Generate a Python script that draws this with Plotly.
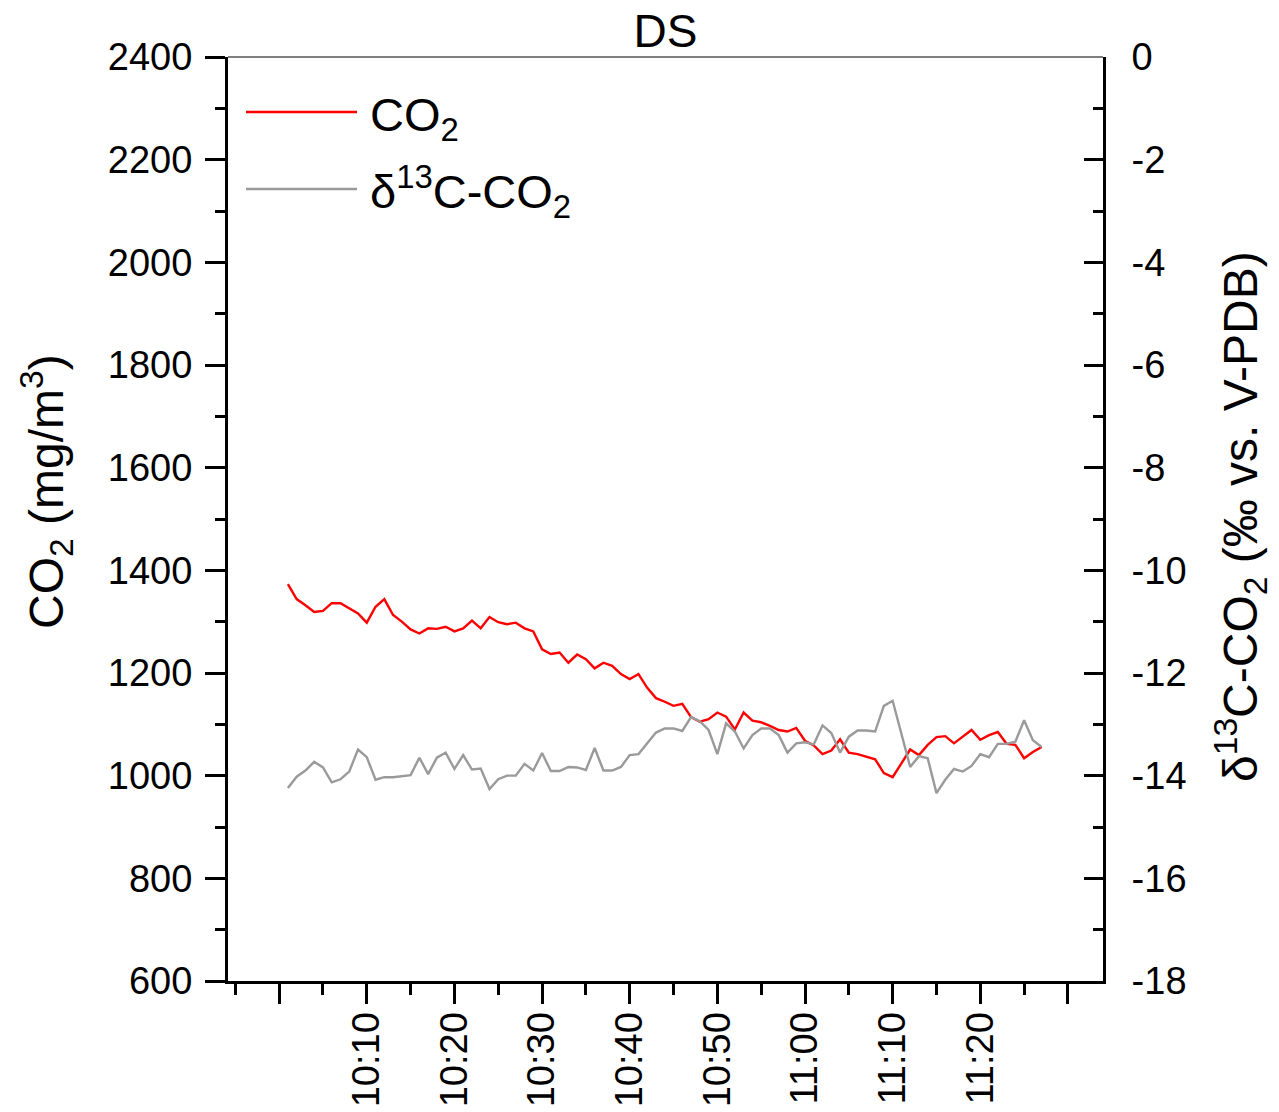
import plotly.graph_objects as go

times = ["10:01", "10:02", "10:03", "10:04", "10:05", "10:06", "10:07", "10:08", "10:09", "10:10",
         "10:11", "10:12", "10:13", "10:14", "10:15", "10:16", "10:17", "10:18", "10:19", "10:20",
         "10:21", "10:22", "10:23", "10:24", "10:25", "10:26", "10:27", "10:28", "10:29", "10:30",
         "10:31", "10:32", "10:33", "10:34", "10:35", "10:36", "10:37", "10:38", "10:39", "10:40",
         "10:41", "10:42", "10:43", "10:44", "10:45", "10:46", "10:47", "10:48", "10:49", "10:50",
         "10:51", "10:52", "10:53", "10:54", "10:55", "10:56", "10:57", "10:58", "10:59", "11:00",
         "11:01", "11:02", "11:03", "11:04", "11:05", "11:06", "11:07", "11:08", "11:09", "11:10",
         "11:11", "11:12", "11:13", "11:14", "11:15", "11:16", "11:17", "11:18", "11:19", "11:20",
         "11:21", "11:22", "11:23", "11:24", "11:25", "11:26", "11:27"]

co2 = [1373, 1344, 1332, 1319, 1321, 1336, 1336, 1326, 1316, 1298,
       1329, 1344, 1313, 1300, 1285, 1277, 1287, 1286, 1290, 1281,
       1287, 1302, 1287, 1309, 1299, 1295, 1298, 1287, 1281, 1246,
       1237, 1240, 1220, 1236, 1227, 1209, 1220, 1214, 1198, 1188,
       1198, 1171, 1151, 1144, 1136, 1140, 1114, 1105, 1110, 1123,
       1115, 1090, 1123, 1107, 1104, 1097, 1089, 1086, 1093, 1068,
       1059, 1042, 1049, 1071, 1045, 1042, 1037, 1032, 1005, 997,
       1024, 1051, 1040, 1060, 1075, 1077, 1063, 1076, 1089, 1070,
       1079, 1085, 1062, 1060, 1034, 1046, 1056]

d13c = [-14.24, -14.02, -13.90, -13.73, -13.84, -14.13, -14.07, -13.92, -13.49, -13.64,
        -14.08, -14.03, -14.03, -14.01, -13.99, -13.65, -13.97, -13.65, -13.55, -13.87,
        -13.60, -13.88, -13.86, -14.26, -14.07, -14.00, -14.00, -13.77, -13.90, -13.56,
        -13.91, -13.91, -13.83, -13.84, -13.89, -13.46, -13.90, -13.90, -13.83, -13.60,
        -13.58, -13.37, -13.16, -13.08, -13.08, -13.13, -12.86, -12.94, -13.11, -13.58,
        -12.98, -13.14, -13.47, -13.21, -13.08, -13.08, -13.21, -13.55, -13.37, -13.35,
        -13.39, -13.02, -13.17, -13.55, -13.24, -13.12, -13.12, -13.14, -12.64, -12.54,
        -13.18, -13.83, -13.62, -13.66, -14.34, -14.08, -13.87, -13.92, -13.81, -13.58,
        -13.64, -13.38, -13.38, -13.34, -12.92, -13.31, -13.44]

tick_times = ["10:00", "10:10", "10:20", "10:30", "10:40", "10:50", "11:00", "11:10", "11:20", "11:30"]
tick_labels = ["", "10:10", "10:20", "10:30", "10:40", "10:50", "11:00", "11:10", "11:20", ""]

co2_ticks = [600, 800, 1000, 1200, 1400, 1600, 1800, 2000, 2200, 2400]
d13c_ticks = [-18, -16, -14, -12, -10, -8, -6, -4, -2, 0]
d13c_tick_labels = ["-18", "-16", "-14", "-12", "-10", "-8", "-6", "-4", "-2", "0"]

DAY = "2000-01-01 "
x = [DAY + t for t in times]

FONT = "Liberation Sans, Arial, sans-serif"

fig = go.Figure()
fig.add_trace(go.Scatter(x=x, y=co2, mode="lines", name="CO<sub>2</sub>",
                         line=dict(color="#FF0000", width=2.4), yaxis="y"))
fig.add_trace(go.Scatter(x=x, y=d13c, mode="lines", name="δ<sup>13</sup>C-CO<sub>2</sub>",
                         line=dict(color="#9A9A9A", width=2.4), yaxis="y2"))

W, H = 1279, 1112
L, R, T, B = 228, 1103, 57, 981

def px(v):
    return (v - L) / (R - L)

def py(v):
    return (B - v) / (B - T)

fig.update_layout(
    width=W, height=H,
    margin=dict(l=L, r=W - R, t=T, b=H - B, autoexpand=False),
    paper_bgcolor="white", plot_bgcolor="white",
    showlegend=False,
    font=dict(family=FONT, color="black", size=38),
    title=dict(text="DS", x=0.5, xref="paper", xanchor="center",
               y=1 - 31 / H, yanchor="middle", yref="container",
               font=dict(size=46, family=FONT, color="black")),
    xaxis=dict(
        type="date",
        automargin=False,
        range=[DAY + "09:54:10", DAY + "11:34:00"],
        tickmode="array",
        tickvals=[DAY + t for t in tick_times],
        ticktext=tick_labels,
        tickangle=-90,
        ticks="outside", ticklen=20, tickwidth=3, tickcolor="black",
        showline=True, linewidth=3, linecolor="black",
        showgrid=False, zeroline=False,
        tickfont=dict(size=38, family=FONT, color="black"),
        ticklabelstandoff=-7,
        minor=dict(dtick=300000, tick0=DAY + "09:55", ticks="outside",
                   ticklen=11, tickwidth=3, tickcolor="black", showgrid=False),
    ),
    yaxis=dict(
        automargin=False,
        range=[600, 2400], tickmode="array", tickvals=co2_ticks,
        ticktext=[str(v) for v in co2_ticks],
        ticks="outside", ticklen=20, tickwidth=3, tickcolor="black",
        showline=True, linewidth=3, linecolor="black",
        showgrid=False, zeroline=False,
        tickfont=dict(size=38, family=FONT, color="black"),
        ticklabelstandoff=5,
        minor=dict(dtick=100, tick0=600, ticks="outside", ticklen=10, tickwidth=3,
                   tickcolor="black", showgrid=False),
    ),
    yaxis2=dict(
        automargin=False,
        range=[-18, 0], tickmode="array", tickvals=d13c_ticks,
        ticktext=d13c_tick_labels,
        overlaying="y", side="right",
        ticks="inside", ticklen=19, tickwidth=3, tickcolor="black",
        showline=True, linewidth=3, linecolor="black",
        showgrid=False, zeroline=False,
        tickfont=dict(size=38, family=FONT, color="black"),
        ticklabelstandoff=18,
        minor=dict(dtick=1, tick0=-18, ticks="inside", ticklen=10, tickwidth=3,
                   tickcolor="black", showgrid=False),
    ),
)

# thin top frame line
fig.add_shape(type="line", xref="paper", yref="paper", x0=0, x1=1, y0=1, y1=1,
              line=dict(color="black", width=1.2))

# legend (drawn manually to match long sample lines)
fig.add_shape(type="line", xref="paper", yref="paper", x0=px(246), x1=px(357),
              y0=py(112), y1=py(112), line=dict(color="#FF0000", width=2.4))
fig.add_shape(type="line", xref="paper", yref="paper", x0=px(246), x1=px(357),
              y0=py(189), y1=py(189), line=dict(color="#9A9A9A", width=2.4))
fig.add_annotation(xref="paper", yref="paper", x=px(368), y=py(118), xanchor="left",
                   yanchor="middle", showarrow=False, text="CO<sub>2</sub>",
                   font=dict(size=47, family=FONT, color="black"))
fig.add_annotation(xref="paper", yref="paper", x=px(368), y=py(192), xanchor="left",
                   yanchor="middle", showarrow=False,
                   text="δ<sup>13</sup>C-CO<sub>2</sub>",
                   font=dict(size=47, family=FONT, color="black"))

# axis titles
fig.add_annotation(xref="paper", yref="paper", x=px(47), y=py(492), xanchor="center",
                   yanchor="middle", showarrow=False, textangle=-90,
                   text="CO<sub>2</sub> (mg/m<sup>3</sup>)",
                   font=dict(size=48, family=FONT, color="black"))
fig.add_annotation(xref="paper", yref="paper", x=px(1240), y=py(517), xanchor="center",
                   yanchor="middle", showarrow=False, textangle=-90,
                   text="δ<sup>13</sup>C-CO<sub>2</sub> (‰ vs. V-PDB)",
                   font=dict(size=48, family=FONT, color="black"))

fig.write_html("out.html")
